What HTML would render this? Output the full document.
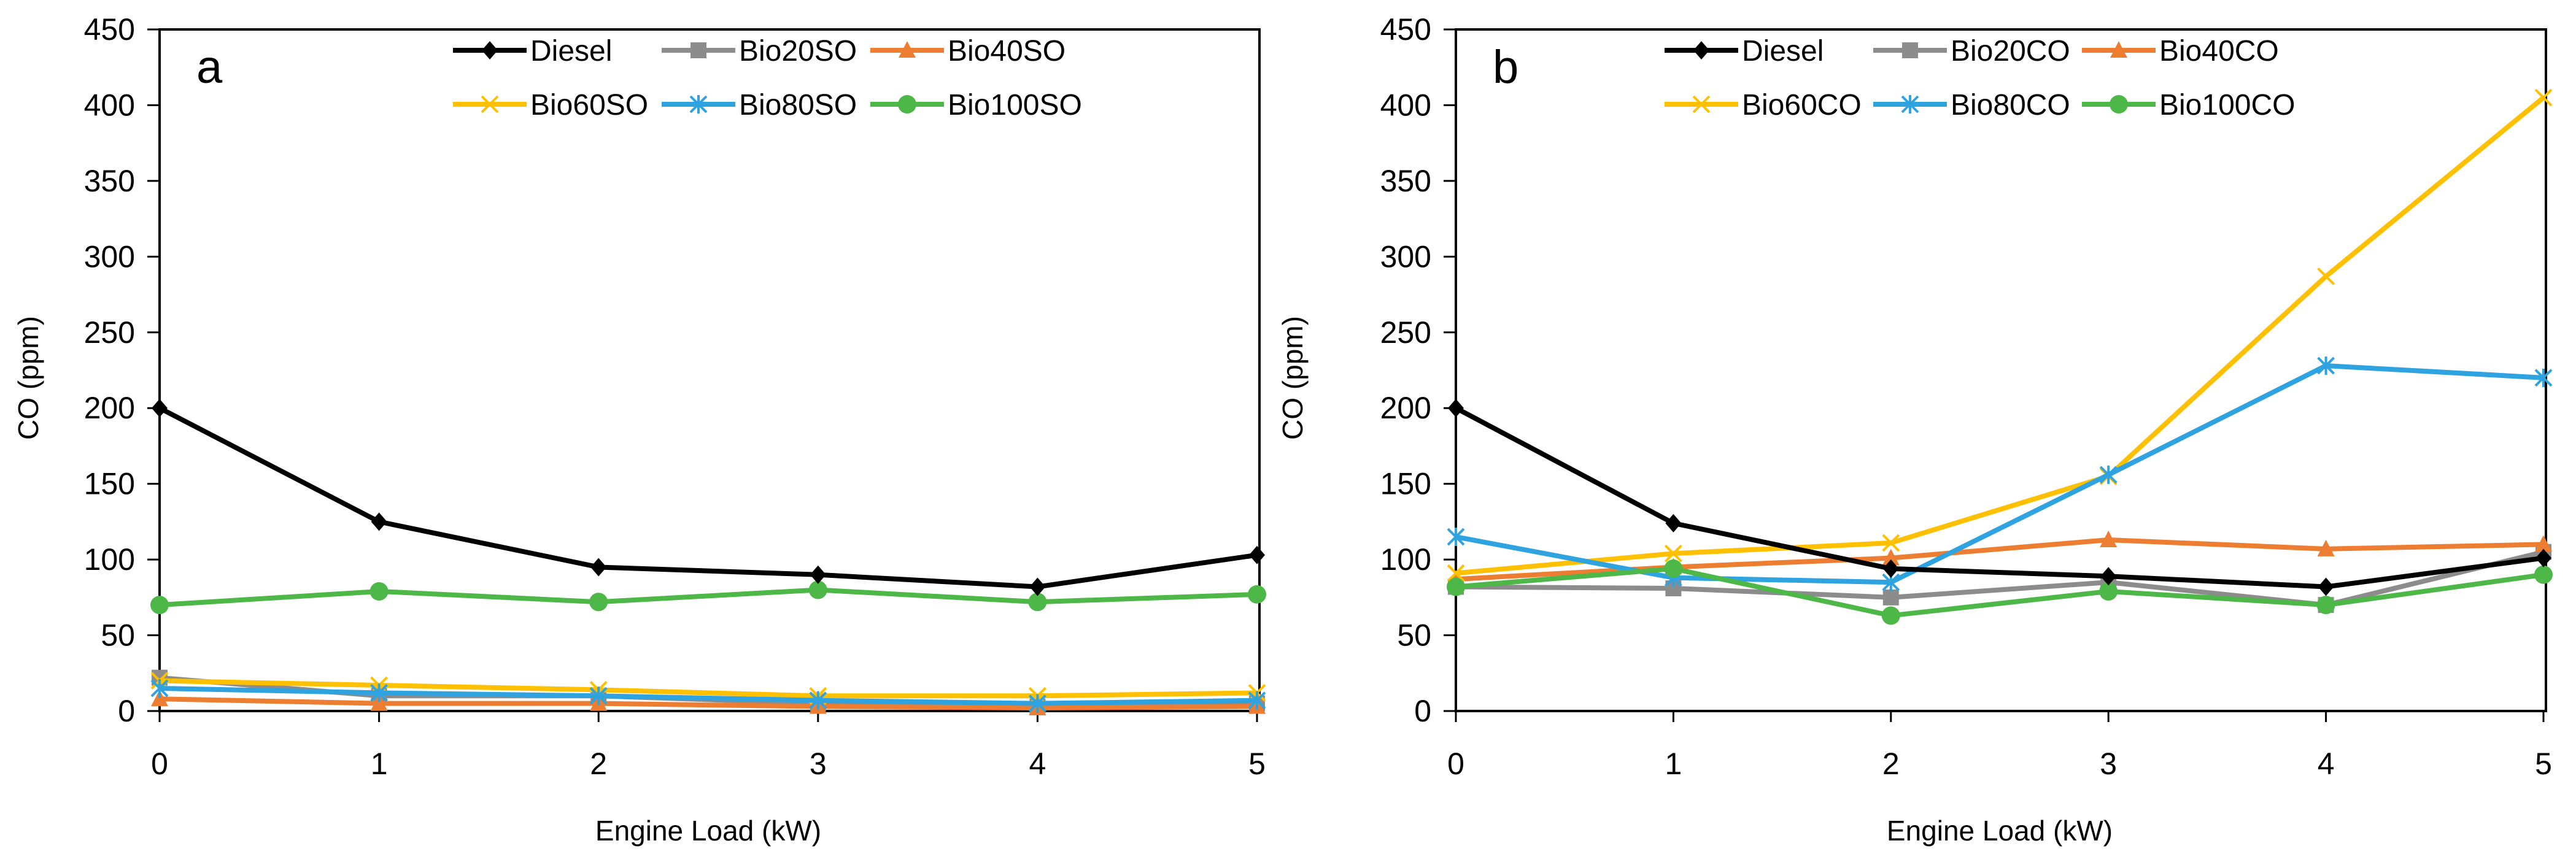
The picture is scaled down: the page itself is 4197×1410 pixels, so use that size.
<!DOCTYPE html>
<html><head><meta charset="utf-8"><style>
html,body{margin:0;padding:0;background:#fff;}
svg{display:block;font-family:"Liberation Sans",sans-serif;}
</style></head><body>
<svg id="chart" width="4197" height="1410" viewBox="0 0 4197 1410" xmlns="http://www.w3.org/2000/svg"></svg>
<script>
const xCategories = [0,1,2,3,4,5];
const yTicks = [0,50,100,150,200,250,300,350,400,450];
const namesA = ["Diesel","Bio20SO","Bio40SO","Bio60SO","Bio80SO","Bio100SO"];
const namesB = ["Diesel","Bio20CO","Bio40CO","Bio60CO","Bio80CO","Bio100CO"];
const dieselA = [200,125,95,90,82,103];
const bio20A = [22,10,10,5,3,5];
const bio40A = [8,5,5,3,2,3];
const bio60A = [20,17,14,10,10,12];
const bio80A = [15,12,10,7,5,7];
const bio100A = [70,79,72,80,72,77];
const dieselB = [200,124,94,89,82,101];
const bio20B = [82,81,75,85,70,105];
const bio40B = [87,95,101,113,107,110];
const bio60B = [91,104,111,155,287,405];
const bio80B = [115,88,85,156,228,220];
const bio100B = [82,94,63,79,70,90];

const colors = ["#000000","#8c8c8c","#ed7d31","#ffc000","#2ea3df","#4db748"];
const markers = ["diamond","square","triangle","x","star","circle"];
const NS = "http://www.w3.org/2000/svg";
const svg = document.getElementById("chart");
function mk(tag, attrs, parent){const e=document.createElementNS(NS,tag);for(const k in attrs)e.setAttribute(k,attrs[k]);(parent||svg).appendChild(e);return e;}

function marker(g, type, cx, cy, c){
  let e;
  if(type==="diamond"){e=mk("polygon",{points:`${cx},${cy-15} ${cx+13},${cy} ${cx},${cy+15} ${cx-13},${cy}`,fill:c},g);}
  else if(type==="square"){e=mk("rect",{x:cx-13,y:cy-13,width:26,height:26,fill:c},g);}
  else if(type==="triangle"){e=mk("polygon",{points:`${cx},${cy-15} ${cx+14},${cy+12} ${cx-14},${cy+12}`,fill:c},g);}
  else if(type==="x"){e=mk("path",{d:`M${cx-13},${cy-13}L${cx+13},${cy+13}M${cx+13},${cy-13}L${cx-13},${cy+13}`,stroke:c,"stroke-width":4,fill:"none"},g);}
  else if(type==="star"){e=mk("path",{d:`M${cx-13},${cy-13}L${cx+13},${cy+13}M${cx+13},${cy-13}L${cx-13},${cy+13}M${cx},${cy-15}L${cx},${cy+15}`,stroke:c,"stroke-width":4,fill:"none"},g);}
  else {e=mk("circle",{cx:cx,cy:cy,r:15,fill:c},g);}
  return e;
}

function panel(id, x0, x5, right, letter, names, series, ytitleX, legendX){
  const yB=1159, yT=48;
  const X=v=>x0+(x5-x0)*v/5;
  const Y=v=>yB-(yB-yT)*v/450;
  const g=mk("g",{});
  
  
  const frame=mk("rect",{x:x0,y:yT,width:right-x0,height:yB-yT,fill:"none",stroke:"#000","stroke-width":4},g);
  
  
  yTicks.forEach(t=>{
    mk("line",{x1:x0-20,x2:x0,y1:Y(t),y2:Y(t),stroke:"#000","stroke-width":3},g);
    const tx=mk("text",{x:x0-40,y:Y(t)+17,"font-size":50,"text-anchor":"end",fill:"#000"},g);
    tx.textContent=t;
    
    
  });
  xCategories.forEach(c=>{
    mk("line",{x1:X(c),x2:X(c),y1:yB,y2:yB+18,stroke:"#000","stroke-width":3},g);
    const tx=mk("text",{x:X(c),y:1262,"font-size":50,"text-anchor":"middle",fill:"#000"},g);
    tx.textContent=c;
    
    
  });
  const yt=mk("text",{x:0,y:0,"font-size":46,"text-anchor":"middle",transform:`translate(${ytitleX},616) rotate(-90)`,fill:"#000"},g);
  yt.textContent="CO (ppm)";
  
  
  const xt=mk("text",{x:(x0+x5)/2,y:1370,"font-size":46,"text-anchor":"middle",fill:"#000"},g);
  xt.textContent="Engine Load (kW)";
  
  
  const lt=mk("text",{x:x0+60,y:135,"font-size":76,fill:"#000"},g);
  lt.textContent=letter;
  
  
  const order=[1,2,3,4,5,0];
  order.forEach(i=>{
    const s=series[i];
    const sg=mk("g",{},g);
    
    
    const pts=s.map((v,k)=>X(xCategories[k])+","+Y(v)).join(" ");
    mk("polyline",{points:pts,fill:"none",stroke:colors[i],"stroke-width":8,"stroke-linejoin":"round"},sg);
    s.forEach((v,k)=>{
      const m=marker(sg,markers[i],X(xCategories[k]),Y(v),colors[i]);
      
      
    });
  });
  names.forEach((n,i)=>{
    const col=i%3, row=Math.floor(i/3);
    const lx=legendX+col*340, ly=row===0?82:170;
    const lg=mk("g",{},g);
    
    
    mk("line",{x1:lx,x2:lx+120,y1:ly,y2:ly,stroke:colors[i],"stroke-width":8},lg);
    marker(lg,markers[i],lx+60,ly,colors[i]);
    const t=mk("text",{x:lx+126,y:ly+17,"font-size":48,fill:"#000"},lg);
    t.textContent=n;
  });
}
panel("a",260,2048,2052,"a",namesA,[dieselA,bio20A,bio40A,bio60A,bio80A,bio100A],62,738);
panel("b",2372,4144,4148,"b",namesB,[dieselB,bio20B,bio40B,bio60B,bio80B,bio100B],2122,2712);
</script>
</body></html>
